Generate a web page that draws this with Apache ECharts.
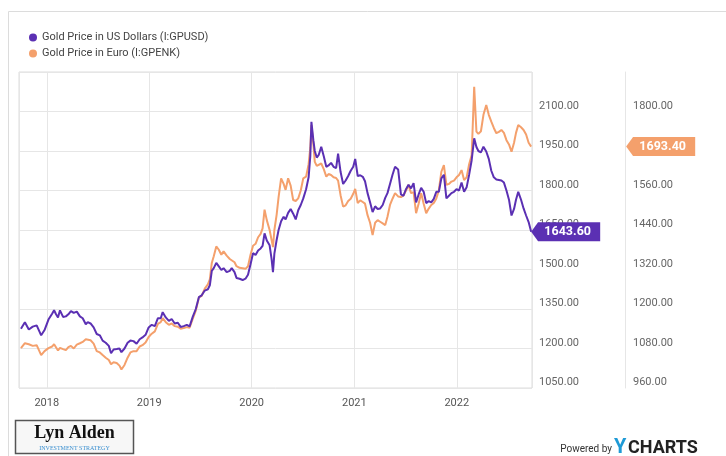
<!DOCTYPE html>
<html><head><meta charset="utf-8">
<script src="https://cdn.jsdelivr.net/npm/echarts@6/dist/echarts.min.js"></script>
<style>html,body{margin:0;padding:0;background:#fff}#c{width:726px;height:456px}</style>
</head><body><div id="c"></div>
<script>
const seriesNames = ['Gold Price in US Dollars (I:GPUSD)', 'Gold Price in Euro (I:GPENK)'];
const dates = [
'2017-10-01','2017-10-15','2017-10-29','2017-11-12','2017-11-26','2017-12-12','2017-12-24',
'2018-01-07','2018-01-20','2018-01-27','2018-02-03','2018-02-10','2018-02-17','2018-02-28','2018-03-10','2018-03-19','2018-03-28',
'2018-04-07','2018-04-18','2018-04-29','2018-05-09','2018-05-20','2018-05-27','2018-06-06','2018-06-17','2018-06-28','2018-07-09',
'2018-07-19','2018-07-30','2018-08-10','2018-08-18','2018-08-27','2018-09-07','2018-09-17','2018-09-24','2018-10-05','2018-10-16',
'2018-10-26','2018-11-06','2018-11-17','2018-11-28','2018-12-08','2018-12-19','2018-12-30',
'2019-01-10','2019-01-21','2019-02-01','2019-02-11','2019-02-18','2019-03-01','2019-03-12','2019-03-22','2019-04-02','2019-04-13',
'2019-04-23','2019-05-04','2019-05-15','2019-05-25','2019-06-05','2019-06-16','2019-06-27','2019-07-07','2019-07-18','2019-07-29',
'2019-08-05','2019-08-12','2019-08-19','2019-08-28','2019-09-06','2019-09-15','2019-09-23','2019-10-04','2019-10-15','2019-10-22',
'2019-11-01','2019-11-08','2019-11-19','2019-11-30','2019-12-10','2019-12-19','2019-12-28',
'2020-01-06','2020-01-15','2020-01-24','2020-02-02','2020-02-09','2020-02-16','2020-02-24','2020-03-05','2020-03-12','2020-03-17',
'2020-03-22','2020-03-30','2020-04-06','2020-04-15','2020-04-24','2020-05-01','2020-05-10','2020-05-19','2020-05-28','2020-06-06',
'2020-06-15','2020-06-24','2020-07-03','2020-07-13','2020-07-22','2020-07-28','2020-08-01','2020-08-08','2020-08-13','2020-08-20',
'2020-08-27','2020-09-05','2020-09-14','2020-09-23','2020-10-01','2020-10-10','2020-10-19','2020-10-28','2020-11-04','2020-11-13',
'2020-11-22','2020-12-01','2020-12-10','2020-12-19','2020-12-28',
'2021-01-04','2021-01-13','2021-01-22','2021-01-31','2021-02-08','2021-02-17','2021-02-26','2021-03-07','2021-03-16','2021-03-25',
'2021-04-03','2021-04-12','2021-04-21','2021-04-29','2021-05-08','2021-05-17','2021-05-26','2021-06-06','2021-06-16','2021-06-25',
'2021-07-04','2021-07-13','2021-07-22','2021-07-31','2021-08-09','2021-08-18','2021-08-27','2021-09-05','2021-09-14','2021-09-23',
'2021-10-02','2021-10-11','2021-10-20','2021-10-29','2021-11-07','2021-11-16','2021-11-25','2021-12-04','2021-12-13','2021-12-22',
'2021-12-31','2022-01-09','2022-01-18','2022-01-27','2022-02-05','2022-02-14','2022-02-23','2022-03-04','2022-03-12','2022-03-19',
'2022-03-28','2022-04-06','2022-04-16','2022-04-25','2022-05-04','2022-05-13','2022-05-22','2022-05-31','2022-06-09','2022-06-18',
'2022-06-27','2022-07-06','2022-07-15','2022-07-24','2022-07-31','2022-08-08','2022-08-18','2022-08-27','2022-09-05','2022-09-14',
'2022-09-23'];
const usd = [
1275,1300,1272,1283,1288,1250,1270,
1310,1332,1345,1330,1318,1345,1320,1322,1330,1342,
1335,1340,1322,1315,1292,1300,1295,1280,1255,1250,
1230,1222,1210,1182,1196,1198,1200,1186,1200,1222,
1230,1228,1218,1235,1242,1252,1280,
1290,1285,1315,1315,1338,1318,1305,1312,1295,1298,
1282,1285,1290,1284,1320,1350,1395,1402,1420,1425,
1440,1495,1505,1525,1512,1498,1505,1490,1495,1505,
1490,1468,1465,1460,1465,1480,1520,
1562,1555,1572,1580,1590,1637,1610,1592,1540,1490,
1560,1612,1650,1683,1700,1690,1715,1730,1712,1690,
1725,1745,1770,1805,1850,1930,2061,1990,1950,1925,
1935,1966,1930,1890,1895,1905,1890,1885,1940,1870,
1825,1838,1855,1875,1890,
1920,1855,1858,1852,1835,1790,1755,1718,1740,1730,
1732,1745,1772,1790,1825,1860,1890,1880,1785,1780,
1805,1822,1808,1828,1755,1785,1810,1795,1752,1760,
1755,1768,1795,1795,1846,1860,1770,1780,1790,1795,
1805,1800,1830,1795,1812,1860,1915,1998,1965,1950,
1945,1966,1948,1920,1875,1850,1842,1840,1838,1830,
1800,1765,1705,1730,1765,1795,1765,1732,1705,1680,
1643.6];
const eur = [
1081,1096,1093,1088,1090,1060,1072,
1081,1086,1093,1088,1074,1082,1078,1075,1084,1088,
1080,1092,1096,1100,1108,1112,1105,1095,1072,1068,
1060,1052,1045,1032,1038,1036,1028,1016,1030,1052,
1068,1072,1072,1086,1090,1098,1115,
1125,1132,1155,1160,1172,1160,1152,1156,1148,1146,
1140,1142,1145,1143,1170,1195,1235,1240,1262,1275,
1290,1340,1360,1390,1380,1365,1375,1362,1352,1355,
1342,1330,1325,1324,1322,1330,1365,
1392,1398,1418,1428,1445,1502,1470,1440,1410,1388,
1440,1486,1540,1597,1580,1562,1597,1575,1531,1528,
1536,1560,1597,1602,1640,1690,1759,1700,1647,1635,
1632,1642,1625,1602,1610,1607,1600,1598,1590,1545,
1511,1515,1528,1535,1550,
1565,1522,1530,1525,1520,1485,1462,1425,1462,1470,
1465,1460,1455,1480,1516,1535,1552,1542,1540,1545,
1560,1577,1552,1555,1491,1520,1552,1520,1491,1505,
1516,1522,1536,1560,1617,1637,1577,1580,1587,1590,
1600,1607,1622,1592,1600,1640,1668,1875,1739,1732,
1740,1790,1820,1790,1769,1750,1734,1738,1744,1735,
1713,1700,1678,1705,1735,1759,1752,1744,1730,1705,
1693.4];
const usdAxis = {min: 1050, max: 2250, interval: 150};
const eurAxis = {min: 960, max: 1920, interval: 120};
const xRange = {min: '2017-09-24', max: '2022-09-26'};

const PURPLE = '#5b30b3';
const ORANGE = '#f4a06c';
const last = dates.length - 1;
const FLAG = 'path://M0,10 L7,0 L70,0 L70,20 L7,20 Z';
const axisFont = {color: '#666', fontSize: 11, fontFamily: 'Roboto, sans-serif'};

const chart = echarts.init(document.getElementById('c'));
chart.setOption({
  animation: false,
  backgroundColor: '#fff',
  legend: {
    orient: 'vertical', left: 24, top: 27, itemGap: 5,
    icon: 'circle', itemWidth: 8, itemHeight: 8,
    textStyle: {color: '#444', fontSize: 11, fontFamily: 'Roboto, sans-serif'},
    data: seriesNames
  },
  grid: {left: 19, top: 72, right: 194, bottom: 68, show: true, borderColor: '#dcdcdc', borderWidth: 1},
  xAxis: {
    type: 'time', min: xRange.min, max: xRange.max, splitNumber: 5,
    axisLine: {show: false}, axisTick: {show: false},
    splitLine: {show: true, lineStyle: {color: '#e6e6e6'}},
    axisLabel: Object.assign({margin: 10, color: '#555', formatter: v => String(new Date(v).getFullYear())}, {fontSize: 11, fontFamily: 'Roboto, sans-serif'})
  },
  yAxis: [
    {type: 'value', position: 'right', min: usdAxis.min, max: usdAxis.max, interval: usdAxis.interval,
     axisLine: {show: false}, axisTick: {show: false},
     splitLine: {show: true, lineStyle: {color: '#e6e6e6'}},
     axisLabel: Object.assign({formatter: v => v.toFixed(2), showMaxLabel: false, verticalAlign: 'bottom', margin: 7}, axisFont)},
    {type: 'value', position: 'right', offset: 93, min: eurAxis.min, max: eurAxis.max, interval: eurAxis.interval,
     axisLine: {show: true, lineStyle: {color: '#e6e6e6'}}, axisTick: {show: false},
     splitLine: {show: false},
     axisLabel: Object.assign({formatter: v => v.toFixed(2), showMaxLabel: false, verticalAlign: 'bottom', margin: 8}, axisFont)}
  ],
  series: [
    {name: seriesNames[0], type: 'line', yAxisIndex: 0, z: 4, showSymbol: false, symbol: 'none',
     itemStyle: {color: PURPLE}, lineStyle: {color: PURPLE, width: 2},
     data: dates.map((d, i) => [d, usd[i]]),
     markPoint: {silent: true, symbol: FLAG, symbolSize: [69, 19], symbolOffset: [34.5, 0],
       itemStyle: {color: PURPLE},
       label: {show: true, color: '#fff', fontWeight: 'bold', fontSize: 12.5, fontFamily: 'Roboto, sans-serif', offset: [2, 0],
         formatter: () => usd[last].toFixed(2)},
       data: [{coord: [dates[last], usd[last]]}]}},
    {name: seriesNames[1], type: 'line', yAxisIndex: 1, z: 3, showSymbol: false, symbol: 'none',
     itemStyle: {color: ORANGE}, lineStyle: {color: ORANGE, width: 2},
     data: dates.map((d, i) => [d, eur[i]]),
     markPoint: {silent: true, symbol: FLAG, symbolSize: [69, 19], symbolOffset: [129.5, 0],
       itemStyle: {color: ORANGE},
       label: {show: true, color: '#fff', fontWeight: 'bold', fontSize: 12.5, fontFamily: 'Roboto, sans-serif', offset: [2, 0],
         formatter: () => eur[last].toFixed(2)},
       data: [{coord: [dates[last], eur[last]]}]}}
  ],
  graphic: [
    {type: 'line', silent: true, shape: {x1: 8.5, y1: 11.5, x2: 726, y2: 11.5}, style: {stroke: '#dcdcdc', lineWidth: 1}},
    {type: 'line', silent: true, shape: {x1: 8.5, y1: 11.5, x2: 8.5, y2: 456}, style: {stroke: '#dcdcdc', lineWidth: 1}},
    {type: 'rect', silent: true, shape: {x: 15.5, y: 420.5, width: 118, height: 33}, style: {fill: '#f7f7f7', stroke: '#555', lineWidth: 1.5}},
    {type: 'text', silent: true, x: 74.5, y: 424, style: {text: 'Lyn Alden', fill: '#111', font: 'bold 18px "Liberation Serif", "DejaVu Serif", serif', align: 'center', verticalAlign: 'top'}},
    {type: 'text', silent: true, x: 74.5, y: 445, style: {text: 'INVESTMENT STRATEGY', fill: '#3a8fd0', font: '6px "Liberation Serif", serif', align: 'center', verticalAlign: 'top'}},
    {type: 'text', silent: true, x: 612, y: 449, style: {text: 'Powered by', fill: '#333', font: '10px Roboto, sans-serif', align: 'right', verticalAlign: 'middle'}},
    {type: 'text', silent: true, x: 614, y: 448, style: {text: 'Y', fill: '#1e9ad6', font: 'bold 20px Roboto, sans-serif', align: 'left', verticalAlign: 'middle'}},
    {type: 'text', silent: true, x: 628, y: 448, style: {text: 'CHARTS', fill: '#222', font: 'bold 18px Roboto, sans-serif', align: 'left', verticalAlign: 'middle'}}
  ]
});
</script></body></html>
